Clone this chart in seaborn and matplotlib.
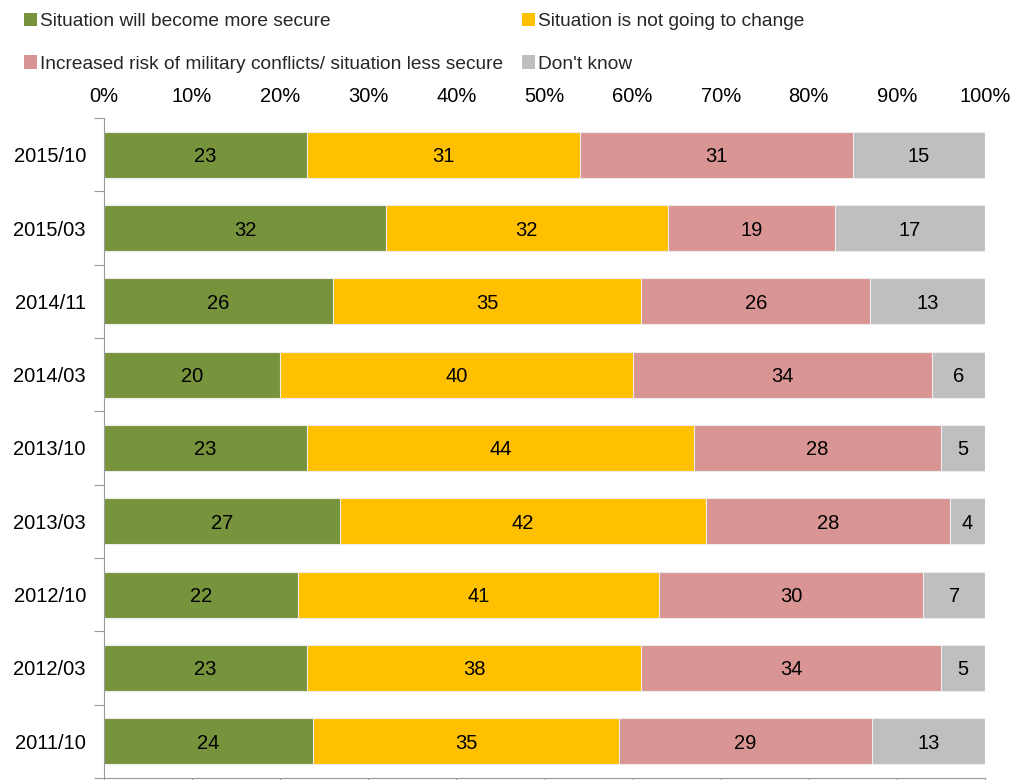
import numpy as np
import pandas as pd
import matplotlib
matplotlib.use("Agg")
import matplotlib.pyplot as plt
from matplotlib.patches import Patch
from matplotlib.ticker import FixedLocator, PercentFormatter
import seaborn as sns

# Survey waves (top to bottom) and answer shares
waves = ["2015/10", "2015/03", "2014/11", "2014/03", "2013/10",
         "2013/03", "2012/10", "2012/03", "2011/10"]
more_secure = [23, 32, 26, 20, 23, 27, 22, 23, 24]
no_change = [31, 32, 35, 40, 44, 42, 41, 38, 35]
less_secure = [31, 19, 26, 34, 28, 28, 30, 34, 29]
dont_know = [15, 17, 13, 6, 5, 4, 7, 5, 13]

series_names = ["Situation will become more secure",
                "Situation is not going to change",
                "Increased risk of military conflicts/ situation less secure",
                "Don't know"]
series_colors = ["#77933C", "#FFC000", "#D99594", "#BFBFBF"]

sns.set_theme(style="white")
plt.rcParams["font.family"] = ["Liberation Sans", "DejaVu Sans"]
FS = 14.5
LEG_FS = 13.8

df = pd.DataFrame({"wave": waves,
                   series_names[0]: more_secure,
                   series_names[1]: no_change,
                   series_names[2]: less_secure,
                   series_names[3]: dont_know})
vals = df[series_names].astype(float)
shares = vals.div(vals.sum(axis=1), axis=0) * 100
cum = shares.cumsum(axis=1)

fig = plt.figure(figsize=(10.13, 7.8), dpi=100)
ax = fig.add_axes([104 / 1013, 1 - 778 / 780, (985 - 104) / 1013, (778 - 118) / 780])

# Stacked bars: draw cumulative totals from the back to the front
for name, color in reversed(list(zip(series_names, series_colors))):
    sns.barplot(x=cum[name], y=df["wave"], color=color, orient="h",
                width=0.63, edgecolor="#EDEDED", linewidth=0.8,
                saturation=1, ax=ax)

# Value labels centered in each segment
for i in range(len(waves)):
    for j, name in enumerate(series_names):
        right = cum[name].iloc[i]
        left = right - shares[name].iloc[i]
        ax.text((left + right) / 2, i, f"{int(vals[name].iloc[i])}",
                ha="center", va="center_baseline", fontsize=FS, color="black")

ax.set_xlim(0, 100)
ax.set_ylim(len(waves) - 0.5, -0.5)
ax.set_xlabel("")
ax.set_ylabel("")
ax.xaxis.set_major_locator(FixedLocator(np.arange(0, 101, 10)))
ax.xaxis.set_major_formatter(PercentFormatter(decimals=0))
ax.tick_params(axis="x", top=False, labeltop=True, bottom=True,
               labelbottom=False, direction="out", length=6, width=0.8,
               color="#999999", labelsize=FS, pad=2.5)
ax.tick_params(axis="y", which="major", left=False, length=0,
               labelsize=FS, pad=13)
ax.yaxis.set_minor_locator(FixedLocator(np.arange(-0.5, len(waves), 1)))
ax.tick_params(axis="y", which="minor", left=True, direction="out",
               length=7, width=0.8, color="#999999")
for lbl in ax.get_xticklabels() + ax.get_yticklabels():
    lbl.set_color("black")

for side in ["top", "right"]:
    ax.spines[side].set_visible(False)
for side in ["left", "bottom"]:
    ax.spines[side].set_visible(True)
    ax.spines[side].set_color("#999999")
    ax.spines[side].set_linewidth(0.8)

# Legend laid out in two rows
order = [0, 2, 1, 3]
handles = [Patch(facecolor=series_colors[k], edgecolor="none") for k in order]
labels = [series_names[k] for k in order]
fig.legend(handles, labels, loc="upper left",
           bbox_to_anchor=(24 / 1013, 1 - 13 / 780), ncol=2, frameon=False,
           fontsize=LEG_FS, handlelength=0.7, handleheight=0.7,
           handletextpad=0.15, columnspacing=0.95, labelspacing=1.3,
           borderaxespad=0, borderpad=0)

fig.savefig("out.png", dpi=100)
